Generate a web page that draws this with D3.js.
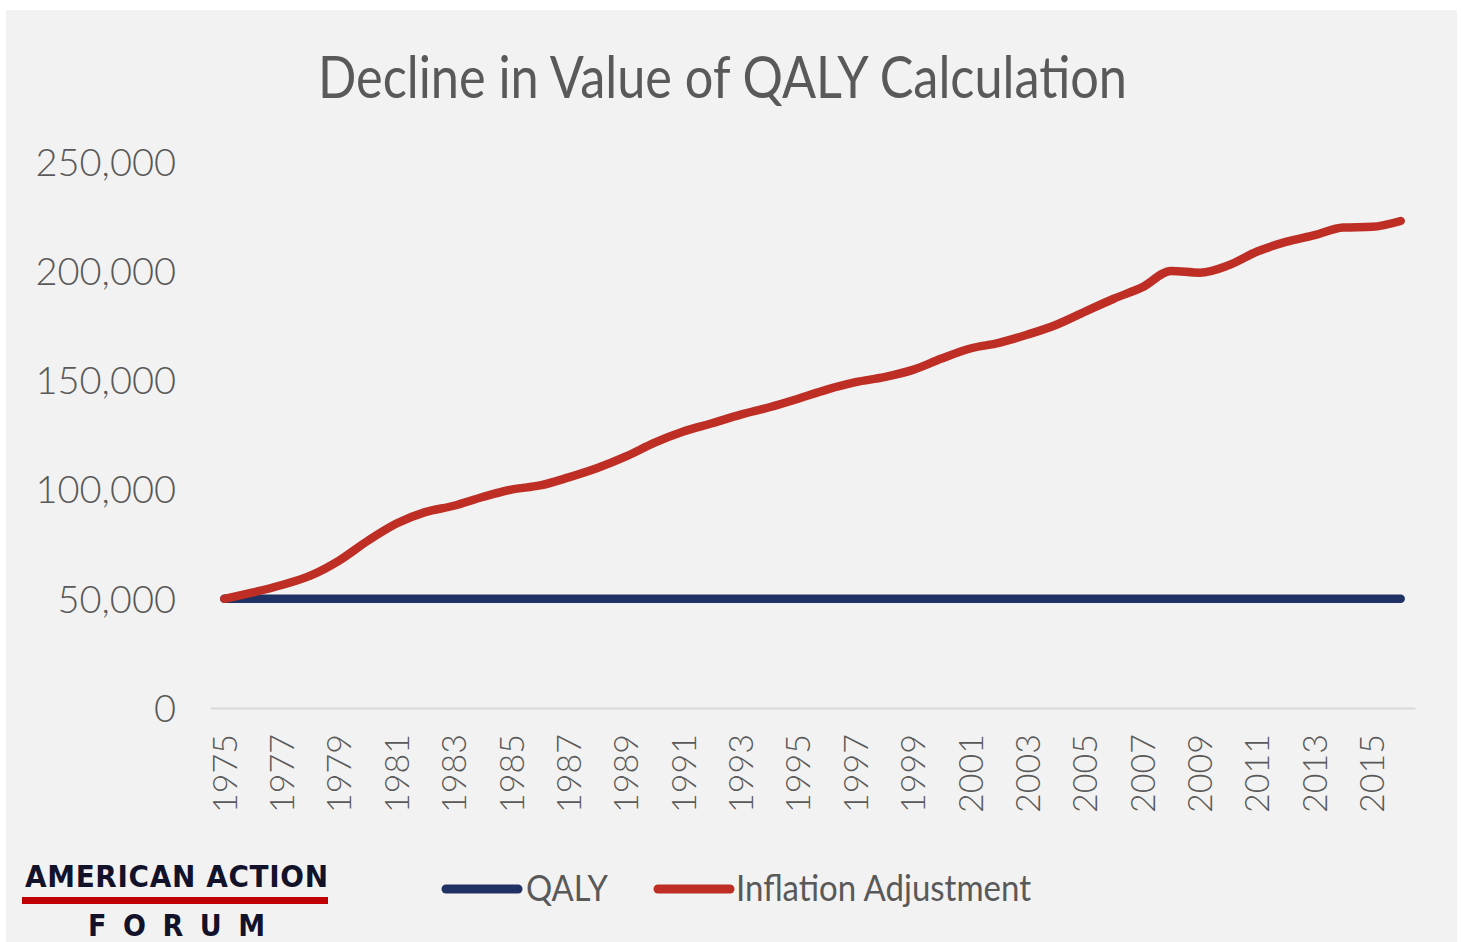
<!DOCTYPE html>
<html>
<head>
<meta charset="utf-8">
<script src="https://cdn.jsdelivr.net/npm/d3@7/dist/d3.min.js"></script>
<style>
  html, body { margin: 0; padding: 0; background: #ffffff; }
  svg { display: block; }
</style>
</head>
<body>
<script>
// ---- Data ----
const years = d3.range(1975, 2017).map(String);
const qaly = years.map(() => 50000);
const inflationAdjustment = [
  50000, 52900, 56300, 60600, 67500, 76600, 84500, 89700, 92600, 96600,
  100000, 101900, 105600, 109900, 115200, 121500, 126600, 130400, 134300, 137700,
  141600, 145800, 149200, 151500, 154800, 160000, 164600, 167200, 171000, 175500,
  181500, 187400, 192700, 200100, 199300, 202700, 209000, 213400, 216500, 220000,
  220300, 223000
];
const yTicks = [0, 50000, 100000, 150000, 200000, 250000];
const xTickLabels = years.filter((d, i) => i % 2 === 0);
const seriesNames = ["QALY", "Inflation Adjustment"];
const title = "Decline in Value of QALY Calculation";

// ---- Layout ----
const W = 1461, H = 942;
const svg = d3.select("body").append("svg").attr("width", W).attr("height", H);

svg.append("rect").attr("x", 6).attr("y", 10).attr("width", 1451).attr("height", 932).attr("fill", "#f2f2f2");

const plot = { left: 210, right: 1415, top: 162, bottom: 708 };
const x = d3.scaleBand().domain(years).range([plot.left, plot.right]);
const y = d3.scaleLinear().domain([0, 250000]).range([plot.bottom, plot.top]);
const textColor = "#595959";

// Title
svg.append("text")
  .attr("x", 318).attr("y", 98)
  .attr("textLength", 809).attr("lengthAdjust", "spacingAndGlyphs")
  .attr("font-family", "Lato, 'Open Sans', sans-serif")
  .attr("font-size", 58).attr("fill", textColor)
  .text(title);

// Y axis
const yAxis = d3.axisLeft(y).tickValues(yTicks).tickSize(0).tickPadding(0)
  .tickFormat(d3.format(","));
const yg = svg.append("g").attr("transform", `translate(176,0)`).call(yAxis);
yg.select(".domain").remove();
yg.selectAll("text")
  .attr("font-family", "Lato, 'Open Sans', sans-serif")
  .attr("font-weight", 300)
  .attr("font-size", 38).attr("fill", textColor)
  .attr("dy", "0.35em");

// X axis
const xAxis = d3.axisBottom(x).tickValues(xTickLabels).tickSize(0).tickPadding(0);
const xg = svg.append("g").attr("transform", `translate(0,${plot.bottom})`).call(xAxis);
xg.select(".domain").attr("stroke", "#d9d9d9").attr("stroke-width", 2);
xg.selectAll("text")
  .attr("font-family", "Lato, 'Open Sans', sans-serif")
  .attr("font-weight", 300)
  .attr("font-size", 34).attr("fill", textColor)
  .attr("text-anchor", "end")
  .attr("transform", "rotate(-90)")
  .attr("x", -26).attr("y", 0).attr("dy", "0.36em");

// Lines
const line = d3.line()
  .x((d, i) => x(years[i]) + x.bandwidth() / 2)
  .y(d => y(d))
  .curve(d3.curveMonotoneX);

svg.append("path").datum(qaly)
  .attr("d", line).attr("fill", "none")
  .attr("stroke", "#203263").attr("stroke-width", 8.5)
  .attr("stroke-linecap", "round").attr("stroke-linejoin", "round");

svg.append("path").datum(inflationAdjustment)
  .attr("d", line).attr("fill", "none")
  .attr("stroke", "#be2e25").attr("stroke-width", 8.5)
  .attr("stroke-linecap", "round").attr("stroke-linejoin", "round");

// Legend
const legendItems = [
  { name: seriesNames[0], color: "#203263", x1: 446, x2: 518, tx: 526, tl: 82 },
  { name: seriesNames[1], color: "#be2e25", x1: 658, x2: 730, tx: 736, tl: 295 }
];
legendItems.forEach(it => {
  svg.append("line").attr("x1", it.x1).attr("x2", it.x2).attr("y1", 889).attr("y2", 889)
    .attr("stroke", it.color).attr("stroke-width", 9).attr("stroke-linecap", "round");
  svg.append("text").attr("x", it.tx).attr("y", 901)
    .attr("textLength", it.tl).attr("lengthAdjust", "spacingAndGlyphs")
    .attr("font-family", "Lato, 'Open Sans', sans-serif")
    .attr("font-size", 36).attr("fill", textColor)
    .text(it.name);
});

// Logo
svg.append("text").attr("x", 25).attr("y", 887)
  .attr("textLength", 303).attr("lengthAdjust", "spacing")
  .attr("font-family", "'Liberation Sans Narrow', 'DejaVu Sans Condensed', sans-serif")
  .attr("font-weight", "bold").attr("font-size", 31).attr("fill", "#12122a")
  .text("AMERICAN ACTION");
svg.append("rect").attr("x", 22).attr("y", 897).attr("width", 306).attr("height", 7).attr("fill", "#c00000");
svg.append("text").attr("x", 88).attr("y", 936)
  .attr("textLength", 177).attr("lengthAdjust", "spacing")
  .attr("font-family", "'Liberation Sans Narrow', 'DejaVu Sans Condensed', sans-serif")
  .attr("font-weight", "bold").attr("font-size", 30).attr("fill", "#12122a")
  .text("FORUM");
</script>
</body>
</html>
